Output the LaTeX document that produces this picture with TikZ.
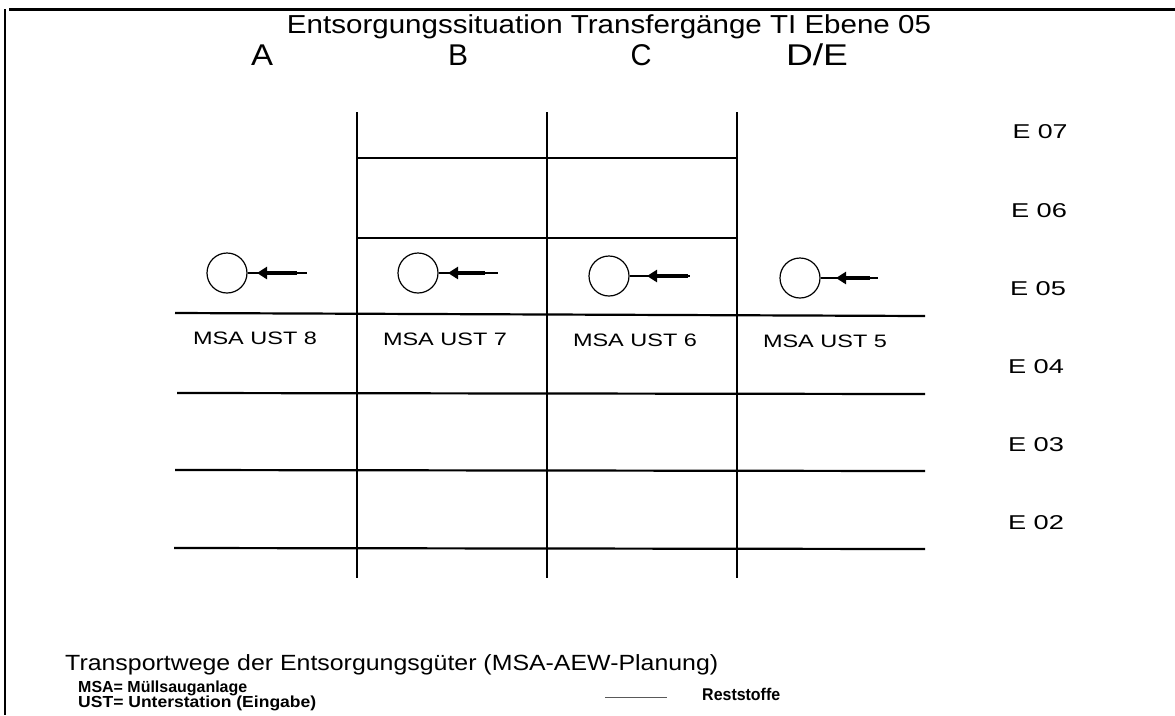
\documentclass[tikz,border=0pt]{standalone}
\usepackage{fontspec}
\setmainfont{Liberation Sans}
\usetikzlibrary{arrows.meta}
\newlength\pxu
\setlength\pxu{0.03cm}
\newcommand{\wt}[3]{\resizebox{#1\pxu}{\height}{\fontsize{#2\pxu}{#2\pxu}\selectfont #3}}
\tikzset{
  grid/.style={line width=2.2\pxu},
  vgrid/.style={line width=1.8\pxu},
  ust/.style={circle, draw, line width=1.2\pxu, minimum size=40\pxu, inner sep=0pt},
  flowarrow/.style={line width=3.5\pxu, -{Triangle[length=0.3cm,width=0.36cm]}},
  thinline/.style={line width=1.2\pxu},
  lbl/.style={inner sep=0pt, anchor=center},
}
\begin{document}
\begin{tikzpicture}[x=0.03cm, y=-0.03cm]
\useasboundingbox (0,0) rectangle (1175,715);
% frame
\draw[line width=3\pxu] (9,9) -- (1175,9);
\draw[line width=2\pxu] (5,9) -- (5,715);
% title and column heads
\node[lbl] (title) at (609,27) {\wt{644}{26}{Entsorgungssituation Transfergänge TI Ebene 05}};
\node[lbl] (colA) at (262,55) {\wt{22}{30}{A}};
\node[lbl] (colB) at (458,55) {\wt{20}{30}{B}};
\node[lbl] (colC) at (641,55) {\wt{21}{30}{C}};
\node[lbl] (colD) at (817,55) {\wt{62}{30}{D/E}};
% vertical lines
\draw[vgrid] (357,112) -- (357,578);
\draw[vgrid] (547,112) -- (547,578);
\draw[vgrid] (737,112) -- (737,578);
% horizontal lines
\draw[grid] (357,158) -- (737,158);
\draw[grid] (357,238) -- (737,238);
\draw[grid] (175,313) -- (925,316);
\draw[grid] (177,393) -- (925,394);
\draw[grid] (175,470) -- (925,471);
\draw[grid] (174,548) -- (925,549);
% level labels
\node[lbl] (e07) at (1040,132) {\wt{55}{20}{E 07}};
\node[lbl] (e06) at (1039,211) {\wt{56}{20}{E 06}};
\node[lbl] (e05) at (1038,289) {\wt{56}{20}{E 05}};
\node[lbl] (e04) at (1036,367) {\wt{56}{20}{E 04}};
\node[lbl] (e03) at (1036,445) {\wt{56}{20}{E 03}};
\node[lbl] (e02) at (1036,523) {\wt{56}{20}{E 02}};
% stations
\node[ust] (c8) at (227,273) {};
\node[ust] (c7) at (418,273) {};
\node[ust] (c6) at (609,276) {};
\node[ust] (c5) at (800,278) {};
\coordinate (t8) at (307,273); \coordinate (s8) at (297,273); \coordinate (p8) at (257,273);
\coordinate (t7) at (498,273); \coordinate (s7) at (485,273); \coordinate (p7) at (448,273);
\coordinate (t6) at (690,276); \coordinate (s6) at (688,276); \coordinate (p6) at (647,276);
\coordinate (t5) at (878,278); \coordinate (s5) at (870,278); \coordinate (p5) at (836,278);
\foreach \i in {8,7,6,5}{
  \draw[thinline] (c\i.east) -- (t\i);
  \draw[flowarrow] (s\i) -- (p\i);
}
\node[lbl] (l8) at (255,338) {\wt{124}{18}{MSA UST 8}};
\node[lbl] (l7) at (445,339) {\wt{124}{18}{MSA UST 7}};
\node[lbl] (l6) at (635,340) {\wt{124}{18}{MSA UST 6}};
\node[lbl] (l5) at (825,341) {\wt{124}{18}{MSA UST 5}};
% legend
\node[lbl, anchor=west] (leg) at (65,665) {\wt{653}{22}{Transportwege der Entsorgungsgüter (MSA-AEW-Planung)}};
\node[lbl, anchor=base west] (msa) at (78,692) {\wt{169}{16}{\bfseries MSA= Müllsauganlage}};
\node[lbl, anchor=base west] (ust) at (78,707) {\wt{238}{16}{\bfseries UST= Unterstation (Eingabe)}};
\coordinate (r1) at (605,697);
\coordinate (r2) at (667,697);
\draw[line width=1\pxu, gray!70!black] (r1) -- (r2);
\node[lbl, anchor=west] (rest) at (702,694) {\wt{78}{17}{\bfseries Reststoffe}};
\end{tikzpicture}
\end{document}
